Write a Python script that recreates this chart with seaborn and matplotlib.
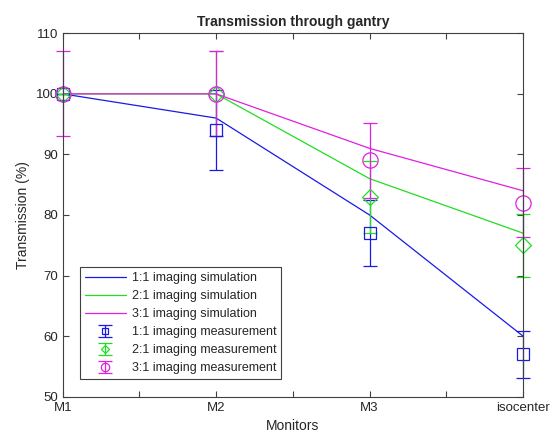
import numpy as np
import pandas as pd
from matplotlib import pyplot as plt
import seaborn as sns

# monitor positions and labels
monitors = ['M1', 'M2', 'M3', 'isocenter']
positions = [1, 2, 3, 4]

# simulated transmission (%)
sim_11 = [100, 96, 80, 60]
sim_21 = [100, 100, 86, 77]
sim_31 = [100, 100, 91, 84]

# measured transmission (%) and errors
meas_11 = [100, 94, 77, 57]
err_11 = [0, 6.6, 5.4, 3.9]
meas_21 = [100, 100, 83, 75]
err_21 = [0, 7, 5.9, 5.2]
meas_31 = [100, 100, 89, 82]
err_31 = [7, 7, 6.2, 5.7]

sns.set_style('ticks')
plt.rcParams['font.family'] = ['Liberation Sans', 'DejaVu Sans']

blue = '#1a1ae6'
green = '#22dd22'
magenta = '#e020e0'
axcol = '#404040'

sim = pd.DataFrame({
    'x': positions * 3,
    'T': sim_11 + sim_21 + sim_31,
    'series': ['1:1 imaging simulation'] * 4 + ['2:1 imaging simulation'] * 4 + ['3:1 imaging simulation'] * 4,
})

fig = plt.figure(figsize=(5.53, 4.41), dpi=100)
ax = fig.add_axes([0.1134, 0.1005, 0.8324, 0.824])

sns.lineplot(data=sim, x='x', y='T', hue='series', palette=[blue, green, magenta],
             linewidth=0.9, ax=ax, legend=False)

handles = list(ax.get_lines())
for y, e, c, m, ms in [(meas_11, err_11, blue, 's', 9),
                       (meas_21, err_21, green, 'D', 8),
                       (meas_31, err_31, magenta, 'o', 11)]:
    h = ax.errorbar(positions, y, yerr=e, fmt=m, color=c, mfc='none', mec=c,
                    ms=ms, mew=0.9, elinewidth=0.9, capsize=5, capthick=0.9)
    h[0].set_clip_on(False)
    for a in list(h[1]) + list(h[2]):
        a.set_clip_on(False)
    handles.append(h)

labels = ['1:1 imaging simulation', '2:1 imaging simulation', '3:1 imaging simulation',
          '1:1 imaging measurement', '2:1 imaging measurement', '3:1 imaging measurement']
leg = ax.legend(handles, labels, loc='lower left', bbox_to_anchor=(0.037, 0.048),
                borderaxespad=0, fontsize=9, handlelength=3.3, handletextpad=0.45,
                labelspacing=0.48, fancybox=False, framealpha=1, borderpad=0.4,
                markerscale=0.55)
leg.get_frame().set_edgecolor(axcol)
leg.get_frame().set_linewidth(0.8)

ax.set_xlim(1, 4)
ax.set_ylim(50, 110)
ax.set_xticks(np.arange(1, 4.01, 0.5))
ax.set_xticklabels(['M1', '', 'M2', '', 'M3', '', 'isocenter'])
ax.set_yticks(np.arange(50, 111, 10))
ax.tick_params(direction='in', length=4, width=0.8, colors=axcol, labelcolor='#262626',
               labelsize=9.5, top=True, right=True)
for s in ax.spines.values():
    s.set_visible(True)
    s.set_color(axcol)
    s.set_linewidth(0.8)

ax.set_xlabel('Monitors', fontsize=10, color='#262626')
ax.set_ylabel('Transmission (%)', fontsize=10, color='#262626')
ax.set_title('Transmission through gantry', fontsize=10, fontweight='bold', pad=5)

fig.savefig('out.png', dpi=100)
